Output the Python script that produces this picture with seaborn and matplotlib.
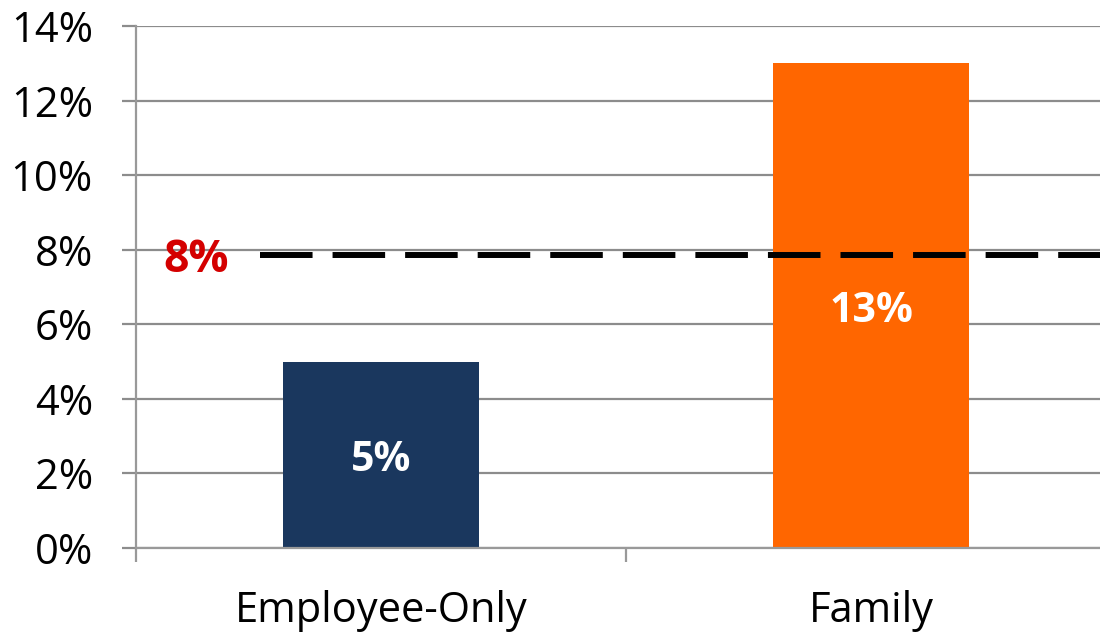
import matplotlib
matplotlib.use("Agg")
import matplotlib.pyplot as plt
import seaborn as sns
import pandas as pd
from matplotlib.ticker import FixedLocator, FuncFormatter

categories = ["Employee-Only", "Family"]
values = [5, 13]
average = 7.86
average_label = "8%"
bar_labels = ["5%", "13%"]
colors = ["#1A375E", "#FF6600"]
yticks = [0, 2, 4, 6, 8, 10, 12, 14]

sns.set_theme(style="white")
plt.rcParams['font.family'] = ['Open Sans', 'DejaVu Sans']

W, H = 1100, 632
fig = plt.figure(figsize=(W / 100, H / 100), dpi=100)
ax = fig.add_axes([136 / W, (H - 548) / H, 980 / W, (548 - 26) / H])

df = pd.DataFrame({"cat": categories, "val": values})
sns.barplot(data=df, x="cat", y="val", hue="cat", palette=colors,
            width=0.4, legend=False, ax=ax, saturation=1, linewidth=0)

ax.set_xlim(-0.5, 1.5)
ax.set_ylim(0, 14)
ax.set_xlabel("")
ax.set_ylabel("")

grid_col = "#8C8C8C"
ax.yaxis.set_major_locator(FixedLocator(yticks))
ax.yaxis.set_major_formatter(FuncFormatter(lambda v, p: f"{int(v)}%"))
ax.grid(axis="y", color=grid_col, linewidth=1.6, zorder=0)
ax.set_axisbelow(True)

for s in ["top", "right"]:
    ax.spines[s].set_visible(False)
for s in ["left", "bottom"]:
    ax.spines[s].set_color("#999999")
    ax.spines[s].set_linewidth(1.6)

ax.tick_params(axis="y", which="major", direction="out", length=10, width=1.6,
               color=grid_col, labelsize=30, pad=21, labelcolor="black", left=True)
ax.set_xticks([-0.5, 0.5, 1.5])
ax.set_xticklabels(["", "", ""])
ax.set_xticks([0, 1], minor=True)
ax.set_xticklabels(categories, minor=True)
ax.tick_params(axis="x", which="major", direction="out", length=10, width=1.6,
               color="#999999", bottom=True)
ax.tick_params(axis="x", which="minor", length=0, labelsize=30, pad=30,
               labelcolor="black")

bars = [c.patches[0] for c in ax.containers]
for bar, lab in zip(bars, bar_labels):
    ax.annotate(lab, (bar.get_x() + bar.get_width() / 2, bar.get_height() / 2),
                xytext=(0, -4), textcoords="offset points", ha="center", va="center",
                color="white", fontsize=29.5, fontweight="bold")

x0 = -0.5 + (260 - 136) / 490
ln, = ax.plot([x0, 1.5], [average, average], color="black", linewidth=4.3,
              solid_capstyle="butt", dash_capstyle="butt", zorder=5, clip_on=False)
ln.set_dashes((8.8, 3.35))

ax.annotate(average_label, (-0.5 + (196 - 136) / 490, average),
            xytext=(0, -4), textcoords="offset points", color="#D40000",
            fontsize=32, fontweight="bold", ha="center", va="center", zorder=6)

fig.savefig("out.png", dpi=100)
